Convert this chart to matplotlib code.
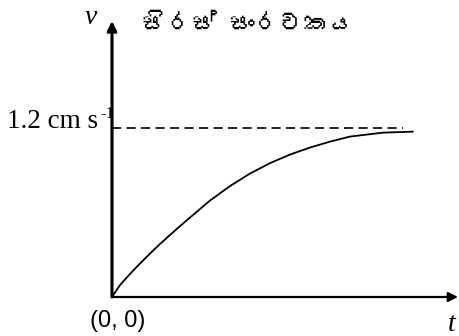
import matplotlib
matplotlib.use("Agg")
import matplotlib.pyplot as plt
from matplotlib import font_manager
from matplotlib.ft2font import FT2Font

# values (t in arbitrary units, v in cm/s)
t_vals = [0.0, 0.8, 1.8, 2.8, 3.8, 4.8, 5.8, 6.8, 7.8, 9.8, 11.8, 13.8,
          15.8, 17.8, 19.8, 21.8, 23.8, 27.1, 30.1]
v_vals = [0.0, 0.085, 0.164, 0.238, 0.309, 0.377, 0.441, 0.504, 0.565, 0.686,
          0.789, 0.878, 0.952, 1.013, 1.063, 1.105, 1.141, 1.169, 1.176]
v_terminal = 1.2
title_text = "සිරස් සංරචකය"
W, H = 459, 336


def find_sinhala_font():
    # pick any installed font that has Sinhala glyphs
    for f in font_manager.fontManager.ttflist:
        try:
            cmap = FT2Font(f.fname).get_charmap()
        except Exception:
            continue
        if 0x0DC3 in cmap and 0x0DBB in cmap:
            return f.name
    return None


def px(x, y):
    return (x / W, 1 - y / H)


fig = plt.figure(figsize=(W / 100, H / 100), dpi=100)
# origin of the axes sits at pixel (112, 297); 10 px per t unit, 140.6 px per cm/s
ax = fig.add_axes([112 / W, (H - 297) / H, (W - 112) / W, 297 / H])
ax.set_xlim(0, 34.7)
ax.set_ylim(0, 297 / 140.6)
ax.axis("off")

# axes arrows
arrow = dict(arrowstyle="-|>", color="black", shrinkA=0, shrinkB=0, mutation_scale=14)
ax.annotate("", xy=(0, 276 / 140.6), xytext=(0, 0),
            arrowprops=dict(arrow, lw=2.2), annotation_clip=False)
ax.annotate("", xy=(34.6, 0), xytext=(0, 0),
            arrowprops=dict(arrow, lw=1.6), annotation_clip=False)

# terminal velocity dashed line and curve
ax.plot([0, 29.1], [v_terminal, v_terminal], color="black", lw=1.2,
        dashes=(5.5, 3.2), clip_on=False)
ax.plot(t_vals, v_vals, color="black", lw=1.3, clip_on=False,
        solid_joinstyle="round", solid_capstyle="round")

serif = "Liberation Serif"
fig.text(*px(85, 24), "v", family=serif, style="italic", fontsize=20,
         ha="left", va="baseline")
fig.text(*px(448, 331), "t", family=serif, style="italic", fontsize=20,
         ha="left", va="baseline")
fig.text(*px(7, 128), "1.2 cm s", family=serif, fontsize=19.5,
         ha="left", va="baseline")
fig.text(*px(100, 118), "-1", family=serif, fontsize=12,
         ha="left", va="baseline")
fig.text(*px(118, 321), "(0, 0)", family="Liberation Sans", fontsize=17,
         ha="center", va="center")

sin_font = find_sinhala_font()
fams = [sin_font, "DejaVu Sans"] if sin_font else ["DejaVu Sans"]
fig.text(*px(142, 24), title_text, family=fams, fontsize=18,
         ha="left", va="center")

fig.savefig("out.png", dpi=100)
